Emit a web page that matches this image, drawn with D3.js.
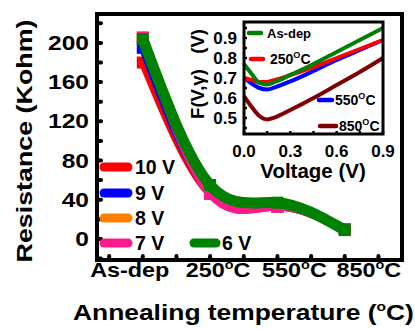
<!DOCTYPE html>
<html>
<head>
<meta charset="utf-8">
<script src="https://cdn.jsdelivr.net/npm/d3@7"></script>
<style>
  body { margin: 0; background: #fff; }
  text { font-family: "Liberation Sans", Arial, sans-serif; font-weight: bold; fill: #000; white-space: pre; }
</style>
</head>
<body>
<svg id="chart" width="415" height="329"></svg>
<script>
// ---------------------------------------------------------------------------
// DATA
// ---------------------------------------------------------------------------
var categories = ["As-dep", "250", "550", "850"];
var seriesNames = ["10 V", "9 V", "8 V", "7 V", "6 V"];
var seriesColors = ["#ff0000", "#0000ff", "#ff8000", "#ff1a8c", "#008000"];
var res10V = [180, 46, 33, 10];
var res9V  = [195, 47, 33, 10];
var res8V  = [206, 47, 33, 10];
var res7V  = [205, 46, 33, 10];
var res6V  = [204, 55, 37, 9];
var yTicks = [0, 40, 80, 120, 160, 200];

// inset: F(V,gamma) vs voltage
var voltage   = [0, 0.05, 0.1, 0.15, 0.2, 0.3, 0.45, 0.6, 0.75, 0.9];
var fAsDep    = [0.77, 0.72, 0.675, 0.667, 0.68, 0.715, 0.77, 0.83, 0.89, 0.95];
var f250      = [0.70, 0.69, 0.68, 0.68, 0.69, 0.715, 0.755, 0.80, 0.845, 0.89];
var f550      = [0.70, 0.672, 0.65, 0.643, 0.653, 0.683, 0.735, 0.79, 0.84, 0.89];
var f850      = [0.61, 0.555, 0.51, 0.493, 0.503, 0.54, 0.60, 0.665, 0.73, 0.80];
var insetNames  = ["As-dep", "250", "550", "850"];
var insetColors = ["#008000", "#ff0000", "#0000ff", "#800000"];
var insetXTicks = [0, 0.3, 0.6, 0.9];
var insetYTicks = [0.5, 0.6, 0.7, 0.8, 0.9];

var resSeries = [res10V, res9V, res8V, res7V, res6V];
var insetSeries = [fAsDep, f250, f550, f850];

var svg = d3.select("#chart");

// text helper: the original figure's fonts are stretched sideways
function addText(parent, x, y, size, anchor, sx, rot) {
  var tf = "translate(" + x + "," + y + ")";
  if (rot) tf += " rotate(" + rot + ")";
  if (sx && sx != 1) tf += " scale(" + sx + ",1)";
  return parent.append("text")
    .attr("transform", tf)
    .attr("text-anchor", anchor || "start")
    .style("font-size", size + "px");
}

// degree-C suffix as superscript o
function addDegC(t, size, sup, shift) {
  t.append("tspan").attr("dy", -shift).style("font-size", sup + "px").text(sup > 9 ? "o" : "O");
  t.append("tspan").attr("dy", shift).style("font-size", size + "px").text("C");
}

// ---------------------------------------------------------------------------
// MAIN PLOT
// ---------------------------------------------------------------------------
var mLeft = 97, mRight = 402, mTop = 14, mBottom = 260;

var x = d3.scaleLinear().domain([-0.68, 3.85]).range([mLeft, mRight]);
var y = d3.scaleLinear().domain([-21.5, 229.5]).range([mBottom, mTop]);

// inward tick dots
var xMinor = d3.range(-0.5, 3.6, 0.5);
svg.append("g").selectAll("line").data(xMinor).enter().append("line")
  .attr("x1", function(d) { return x(d); }).attr("x2", function(d) { return x(d); })
  .attr("y1", mBottom).attr("y2", mBottom - 4)
  .attr("stroke", "#000").attr("stroke-width", 4).attr("stroke-linecap", "round");

var yMinor = d3.range(-20, 221, 20);
svg.append("g").selectAll("line").data(yMinor).enter().append("line")
  .attr("x1", mLeft).attr("x2", mLeft + 4)
  .attr("y1", function(d) { return y(d); }).attr("y2", function(d) { return y(d); })
  .attr("stroke", "#000").attr("stroke-width", 4).attr("stroke-linecap", "round");

// curves
var line = d3.line()
  .x(function(d, i) { return x(i); })
  .y(function(d) { return y(d); })
  .curve(d3.curveNatural);

[0, 1, 2, 3, 4].forEach(function(k) {
  var w = (k == 4) ? 11 : 8;
  svg.append("path")
    .datum(resSeries[k])
    .attr("d", line)
    .attr("fill", "none")
    .attr("stroke", seriesColors[k])
    .attr("stroke-width", w);
  svg.append("g").selectAll("rect").data(resSeries[k]).enter().append("rect")
    .attr("x", function(d, i) { return x(i) - 6; })
    .attr("y", function(d) { return y(d) - 6; })
    .attr("width", 12).attr("height", 12)
    .attr("fill", seriesColors[k]);
});

// frame
svg.append("rect")
  .attr("x", mLeft).attr("y", mTop)
  .attr("width", mRight - mLeft).attr("height", mBottom - mTop)
  .attr("fill", "none").attr("stroke", "#000").attr("stroke-width", 4);

// y tick labels
yTicks.forEach(function(d) {
  addText(svg, 89, y(d) + 7, 19.5, "end", 1.26).text(d);
});

// x tick labels (sit off the ticks, as in the original figure)
var xLabelShift = [-13, 8, 17, 24];
categories.forEach(function(d, i) {
  var t = addText(svg, x(i) + xLabelShift[i], 277, 19.5, "middle", 1.2);
  t.append("tspan").text(d);
  if (i > 0) addDegC(t, 19.5, 12, 8);
});

// axis titles
addText(svg, 32, 141, 22, "middle", 1.22, -90).text("Resistance (Kohm)");

var xt = addText(svg, 73, 320, 22, "start", 1.2);
xt.append("tspan").text("Annealing temperature (");
xt.append("tspan").attr("dy", -9).style("font-size", "13px").text("o");
xt.append("tspan").attr("dy", 9).text("C)");

// legend
var legendY = [167, 193, 218, 243];
for (var k = 0; k < 4; k++) {
  svg.append("line")
    .attr("x1", 104).attr("x2", 128)
    .attr("y1", legendY[k]).attr("y2", legendY[k])
    .attr("stroke", seriesColors[k]).attr("stroke-width", 9).attr("stroke-linecap", "round");
  addText(svg, 135, legendY[k] + 6.5, 19.5, "start", 1).text(seriesNames[k]);
}
svg.append("line")
  .attr("x1", 194).attr("x2", 216)
  .attr("y1", 243).attr("y2", 243)
  .attr("stroke", seriesColors[4]).attr("stroke-width", 9).attr("stroke-linecap", "round");
addText(svg, 222, 249.5, 19.5, "start", 1).text(seriesNames[4]);

// ---------------------------------------------------------------------------
// INSET
// ---------------------------------------------------------------------------
var iLeft = 244, iRight = 383, iTop = 22, iBottom = 134;
var ix = d3.scaleLinear().domain([0, 0.9]).range([iLeft, iRight]);
var iy = d3.scaleLinear().domain([0.42, 0.98]).range([iBottom, iTop]);

svg.append("rect")
  .attr("x", iLeft).attr("y", iTop)
  .attr("width", iRight - iLeft).attr("height", iBottom - iTop)
  .attr("fill", "#fff");

// inward tick dots
svg.append("g").selectAll("line").data(d3.range(0, 0.91, 0.15)).enter().append("line")
  .attr("x1", function(d) { return ix(d); }).attr("x2", function(d) { return ix(d); })
  .attr("y1", iBottom).attr("y2", iBottom - 3)
  .attr("stroke", "#000").attr("stroke-width", 2.5);
svg.append("g").selectAll("line").data(d3.range(0.45, 0.96, 0.05)).enter().append("line")
  .attr("x1", iLeft).attr("x2", iLeft + 3)
  .attr("y1", function(d) { return iy(d); }).attr("y2", function(d) { return iy(d); })
  .attr("stroke", "#000").attr("stroke-width", 2.5);

var iline = d3.line()
  .x(function(d, i) { return ix(voltage[i]); })
  .y(function(d) { return iy(d); })
  .curve(d3.curveMonotoneX);

[3, 2, 1, 0].forEach(function(k) {
  svg.append("path")
    .datum(insetSeries[k])
    .attr("d", iline)
    .attr("fill", "none")
    .attr("stroke", insetColors[k])
    .attr("stroke-width", 4);
});

svg.append("rect")
  .attr("x", iLeft).attr("y", iTop)
  .attr("width", iRight - iLeft).attr("height", iBottom - iTop)
  .attr("fill", "none").attr("stroke", "#000").attr("stroke-width", 3);

insetYTicks.forEach(function(d) {
  addText(svg, 237, iy(d) + 6, 17, "end", 1).text(d3.format(".1f")(d));
});
insetXTicks.forEach(function(d) {
  addText(svg, ix(d), 157, 17, "middle", 1).text(d3.format(".1f")(d));
});

addText(svg, 313, 178, 20.5, "middle", 1).text("Voltage (V)");
addText(svg, 204, 74, 18.5, "middle", 1, -90).text("F(V,\u03b3)   (V)");

// inset legend
var iLeg = [
  {x1: 249, x2: 261, y: 33, tx: 267, size: 13},
  {x1: 251, x2: 263, y: 59, tx: 270, size: 14},
  {x1: 319, x2: 332, y: 100, tx: 335, size: 14},
  {x1: 320, x2: 336, y: 126, tx: 339, size: 14}
];
iLeg.forEach(function(p, k) {
  svg.append("line")
    .attr("x1", p.x1).attr("x2", p.x2).attr("y1", p.y).attr("y2", p.y)
    .attr("stroke", insetColors[k]).attr("stroke-width", 4.5).attr("stroke-linecap", "round");
  var t = addText(svg, p.tx, p.y + 5, p.size, "start", 1);
  t.append("tspan").text(insetNames[k]);
  if (k > 0) addDegC(t, p.size, 9, 6);
});
</script>
</body>
</html>
